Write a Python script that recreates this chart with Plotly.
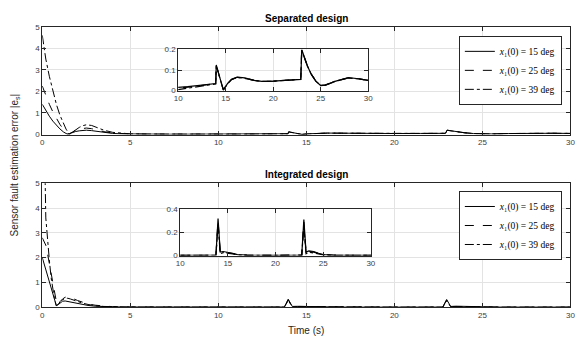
import plotly.graph_objects as go

# ---------------- data ----------------
# Separated design
sep_t = [0, 0.2, 0.4, 0.6, 0.8, 1.0, 1.2, 1.35, 1.45, 1.55, 1.7, 1.9, 2.1, 2.3, 2.5, 2.8, 3.1, 3.5,
         4.0, 4.5, 5, 6, 7, 8, 9, 10, 11, 12, 13, 13.95, 14.0, 14.75, 15.2, 15.6, 16.2, 17, 18,
         18.8, 20, 21.5, 22.9, 23.0, 23.3, 23.6, 24.0, 24.5, 25, 25.5, 26.5, 27.9, 29, 30]
sep_15 = [1.40, 1.10, 0.85, 0.62, 0.42, 0.26, 0.12, 0.04, 0.0, 0.04, 0.09, 0.14, 0.17, 0.19, 0.20, 0.18,
          0.14, 0.09, 0.05, 0.03, 0.02, 0.015, 0.012, 0.012, 0.013, 0.015, 0.02, 0.025, 0.03, 0.035,
          0.125, 0.003, 0.035, 0.055, 0.066, 0.062, 0.05, 0.045, 0.046, 0.05, 0.055, 0.2, 0.16, 0.12,
          0.08, 0.045, 0.025, 0.027, 0.045, 0.063, 0.058, 0.05]
sep_25 = [2.25, 1.80, 1.40, 1.05, 0.74, 0.47, 0.24, 0.12, 0.03, 0.04, 0.12, 0.20, 0.25, 0.28, 0.30, 0.27,
          0.21, 0.13, 0.07, 0.04, 0.025, 0.018, 0.014, 0.012, 0.012, 0.012, 0.017, 0.023, 0.029, 0.034,
          0.123, 0.004, 0.034, 0.054, 0.065, 0.061, 0.05, 0.045, 0.046, 0.05, 0.055, 0.198, 0.159, 0.12,
          0.08, 0.045, 0.025, 0.027, 0.045, 0.062, 0.058, 0.05]
sep_39 = [4.60, 3.50, 2.70, 2.00, 1.40, 0.90, 0.50, 0.25, 0.12, 0.0, 0.10, 0.22, 0.33, 0.41, 0.45, 0.42,
          0.33, 0.20, 0.10, 0.05, 0.03, 0.02, 0.012, 0.008, 0.006, 0.005, 0.012, 0.02, 0.028, 0.033,
          0.12, 0.005, 0.033, 0.053, 0.064, 0.06, 0.05, 0.045, 0.046, 0.05, 0.055, 0.196, 0.158, 0.12,
          0.08, 0.046, 0.026, 0.028, 0.045, 0.062, 0.057, 0.05]

# Integrated design
int_t = [0, 0.1, 0.15, 0.2, 0.3, 0.4, 0.5, 0.6, 0.7, 0.8, 0.9, 1.0, 1.15, 1.3, 1.45, 1.6, 1.8, 2.0,
         2.3, 2.6, 3.0, 3.5, 4.0, 5, 7, 10, 13, 13.75, 13.97, 14.2, 14.5, 15.0, 15.5, 16.0, 17, 20,
         22.75, 22.97, 23.2, 23.5, 24.0, 24.5, 25.0, 26, 30]
int_15 = [2.0, 1.75, 1.62, 1.5, 1.25, 1.0, 0.75, 0.5, 0.27, 0.06, 0.10, 0.17, 0.24, 0.25, 0.23, 0.20,
          0.17, 0.14, 0.10, 0.07, 0.04, 0.02, 0.01, 0.005, 0.003, 0.002, 0.002, 0.005, 0.32, 0.03,
          0.035, 0.03, 0.02, 0.008, 0.003, 0.002, 0.004, 0.31, 0.03, 0.04, 0.035, 0.02, 0.008, 0.003, 0.002]
int_25 = [2.8, 2.65, 2.58, 2.5, 2.15, 1.75, 1.35, 0.95, 0.58, 0.22, 0.08, 0.22, 0.33, 0.40, 0.42, 0.39,
          0.33, 0.27, 0.20, 0.13, 0.08, 0.04, 0.02, 0.008, 0.004, 0.002, 0.002, 0.004, 0.30, 0.02,
          0.03, 0.027, 0.018, 0.007, 0.003, 0.002, 0.004, 0.29, 0.02, 0.035, 0.03, 0.018, 0.007, 0.003, 0.002]
int_39 = [6.0, 5.7, 5.6, 3.6, 2.6, 1.9, 1.2, 0.7, 0.3, 0.05, 0.12, 0.22, 0.30, 0.35, 0.36, 0.33,
          0.28, 0.22, 0.16, 0.11, 0.06, 0.03, 0.015, 0.006, 0.003, 0.002, 0.002, 0.003, 0.27, 0.015,
          0.025, 0.022, 0.015, 0.006, 0.002, 0.002, 0.003, 0.26, 0.015, 0.03, 0.025, 0.015, 0.006, 0.002, 0.002]

legend_names = ["<i>x</i>₁(0) = 15 deg", "<i>x</i>₁(0) = 25 deg", "<i>x</i>₁(0) = 39 deg"]
dashes = ["solid", "dash", "dashdot"]

W, H = 576, 345

def px_x(p):
    return p / W

def px_y(p):
    return 1 - p / H

fig = go.Figure()

panels = [
    (sep_t, [sep_15, sep_25, sep_39], "x", "y", "x3", "y3", "legend"),
    (int_t, [int_15, int_25, int_39], "x2", "y2", "x4", "y4", "legend2"),
]
for t, series, xm, ym, xi, yi, lg in panels:
    for k, s in enumerate(series):
        fig.add_trace(go.Scatter(x=t, y=s, mode="lines", xaxis=xm, yaxis=ym,
                                 line=dict(color="black", width=1, dash=dashes[k]),
                                 name=legend_names[k], legend=lg, showlegend=True))
    for k, s in enumerate(series):
        fig.add_trace(go.Scatter(x=t, y=s, mode="lines", xaxis=xi, yaxis=yi,
                                 line=dict(color="black", width=1.2, dash=dashes[k]),
                                 showlegend=False))

axcommon = dict(showline=True, linecolor="#262626", linewidth=1, mirror="allticks",
                ticks="inside", ticklen=4, tickcolor="#262626", showgrid=True,
                gridcolor="#e3e3e3", gridwidth=1, zeroline=False,
                tickfont=dict(family="Liberation Sans, Arial", size=8, color="#404040"))

main_x = [px_x(38.9), px_x(575.4)]
fig.update_layout(
    width=W, height=H, margin=dict(l=0, r=0, t=0, b=0),
    paper_bgcolor="white", plot_bgcolor="white",
    xaxis=dict(domain=main_x, range=[0, 30], tickvals=[0, 5, 10, 15, 20, 25, 30], anchor="y",
               **axcommon),
    yaxis=dict(domain=[px_y(134), px_y(23.3)], range=[0, 5], tickvals=[0, 1, 2, 3, 4, 5], anchor="x",
               **axcommon),
    xaxis2=dict(domain=main_x, range=[0, 30], tickvals=[0, 5, 10, 15, 20, 25, 30], anchor="y2",
                **axcommon),
    yaxis2=dict(domain=[px_y(311.3), px_y(184)], range=[0, 5], tickvals=[0, 1, 2, 3, 4, 5], anchor="x2",
                **axcommon),
    xaxis3=dict(domain=[px_x(177), px_x(370)], range=[10, 30], tickvals=[10, 15, 20, 25, 30], anchor="y3",
                **axcommon),
    yaxis3=dict(domain=[px_y(89), px_y(46.7)], range=[0, 0.2], tickvals=[0, 0.1, 0.2], anchor="x3",
                **axcommon),
    xaxis4=dict(domain=[px_x(179), px_x(372.7)], range=[10, 30], tickvals=[10, 15, 20, 25, 30], anchor="y4",
                **axcommon),
    yaxis4=dict(domain=[px_y(258.3), px_y(210.7)], range=[0, 0.4], tickvals=[0, 0.2, 0.4], anchor="x4",
                **axcommon),
)

legcommon = dict(bgcolor="white", bordercolor="#262626", borderwidth=1,
                 font=dict(family="Liberation Serif, DejaVu Serif", size=9.5, color="black"),
                 xanchor="right", yanchor="top", tracegroupgap=0, itemwidth=30)
fig.update_layout(
    legend=dict(x=px_x(566.7), y=px_y(32.7), **legcommon),
    legend2=dict(x=px_x(566.7), y=px_y(192), **legcommon),
)

tfont = dict(family="Liberation Sans, Arial", size=10, color="black")
fig.add_annotation(text="<b>Separated design</b>", x=px_x(307), y=px_y(15), xref="paper", yref="paper",
                   showarrow=False, font=tfont, xanchor="center", yanchor="middle")
fig.add_annotation(text="<b>Integrated design</b>", x=px_x(307), y=px_y(175), xref="paper", yref="paper",
                   showarrow=False, font=tfont, xanchor="center", yanchor="middle")
lfont = dict(family="Liberation Sans, Arial", size=10, color="#262626")
fig.add_annotation(text="Time (s)", x=px_x(307), y=px_y(335), xref="paper", yref="paper",
                   showarrow=False, font=lfont, xanchor="center", yanchor="middle")
fig.add_annotation(text="Sensor fault estimation error |e<sub>s</sub>|", x=px_x(11), y=px_y(165),
                   xref="paper", yref="paper", showarrow=False, font=lfont, textangle=-90,
                   xanchor="center", yanchor="middle")

fig.write_html("out.html")
